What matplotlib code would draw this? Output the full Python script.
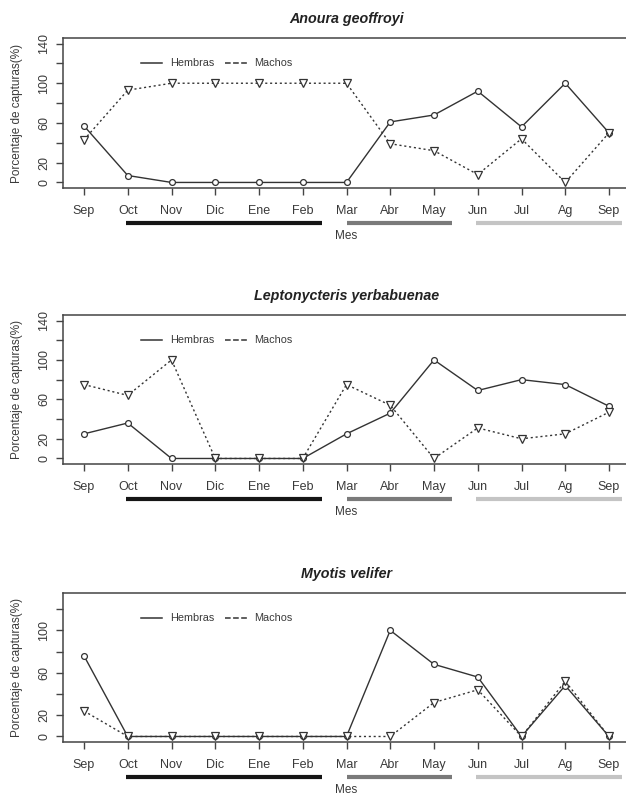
import matplotlib
matplotlib.use("Agg")
import matplotlib.pyplot as plt
import matplotlib.transforms as mtransforms
from matplotlib.lines import Line2D

plt.rcParams['font.family'] = ['Liberation Sans', 'DejaVu Sans']

months = ["Sep", "Oct", "Nov", "Dic", "Ene", "Feb", "Mar", "Abr", "May", "Jun", "Jul", "Ag", "Sep"]

titles = ["Anoura geoffroyi", "Leptonycteris yerbabuenae", "Myotis velifer"]

anoura_hembras = [57, 7, 0, 0, 0, 0, 0, 61, 68, 92, 56, 100, 50]
anoura_machos = [43, 93, 100, 100, 100, 100, 100, 39, 32, 8, 44, 0, 50]

lepto_hembras = [25, 36, 0, 0, 0, 0, 25, 46, 100, 69, 80, 75, 53]
lepto_machos = [75, 64, 100, 0, 0, 0, 75, 54, 0, 31, 20, 25, 47]

myotis_hembras = [76, 0, 0, 0, 0, 0, 0, 100, 68, 56, 0, 48, 0]
myotis_machos = [24, 0, 0, 0, 0, 0, 0, 0, 32, 44, 0, 52, 0]

hembras = [anoura_hembras, lepto_hembras, myotis_hembras]
machos = [anoura_machos, lepto_machos, myotis_machos]

ymax_list = [140, 140, 130]
ytick_max = [140, 140, 120]
ytick_labels_shown = [{0, 20, 60, 100, 140}, {0, 20, 60, 100, 140}, {0, 20, 60, 100}]

# season bars (x extents in month positions) and colours
season_spans = [(1.95, 6.45), (7.0, 9.4), (9.97, 13.3)]
season_colors = ["#151515", "#7a7a7a", "#c4c4c4"]

W, H = 626, 800
fig = plt.figure(figsize=(W / 100, H / 100), dpi=100)

axes_px = [(38, 188), (315, 464), (593, 742)]
left_px, right_px = 63, 630

line_col = "#333333"
text_col = "#3a3a3a"
x = list(range(1, 14))

for i in range(3):
    top, bot = axes_px[i]
    ax = fig.add_axes([left_px / W, 1 - bot / H, (right_px - left_px) / W, (bot - top) / H])
    ymax = ymax_list[i]
    pad = 0.04 * ymax
    ax.set_ylim(-pad, ymax + pad)
    ax.set_xlim(0.52, 13.48)

    ax.plot(x, hembras[i], color=line_col, lw=1.0, ls='-', marker='o', ms=4.2,
            mfc='white', mec=line_col, mew=0.9, zorder=3)
    ax.plot(x, machos[i], color=line_col, lw=1.0, ls=(0, (1.5, 2.0)), marker='v', ms=5.5,
            mfc='white', mec=line_col, mew=0.9, zorder=3)

    yt = list(range(0, ytick_max[i] + 1, 20))
    ax.set_yticks(yt)
    ax.set_yticklabels([str(v) if v in ytick_labels_shown[i] else "" for v in yt],
                       rotation=90, va='center', fontsize=9, color=text_col)
    ax.set_xticks(x)
    ax.set_xticklabels(months, fontsize=9, color=text_col)
    ax.tick_params(axis='both', length=5, width=1, color="#444444", pad=4)
    ax.tick_params(axis='x', pad=7)
    for s in ax.spines.values():
        s.set_color("#444444")
        s.set_linewidth(1.1)

    ax.set_ylabel("Porcentaje de capturas(%)", fontsize=8.5, color=text_col, labelpad=11)
    ax.set_title(titles[i], fontsize=10.3, fontweight='bold', fontstyle='italic',
                 color="#222222", pad=11, x=0.5)

    handles = [Line2D([0], [0], color=line_col, lw=1.1, ls='-'),
               Line2D([0], [0], color=line_col, lw=1.1, ls='--')]
    ax.legend(handles, ["Hembras", "Machos"], loc='center left',
              bbox_to_anchor=(0.12, 0.83), ncol=2, frameon=False, fontsize=7.8,
              handlelength=2.0, columnspacing=1.0, handletextpad=0.7,
              labelcolor=text_col)

    trans = mtransforms.blended_transform_factory(ax.transData, ax.transAxes)
    for (x0, x1), c in zip(season_spans, season_colors):
        ax.plot([x0, x1], [-0.235, -0.235], color=c, lw=3, transform=trans,
                clip_on=False, solid_capstyle='butt')
    ax.text(7, -0.32, "Mes", transform=trans, ha='center', va='center',
            fontsize=8.5, color=text_col)

fig.savefig("out.png", dpi=100, facecolor='white')
